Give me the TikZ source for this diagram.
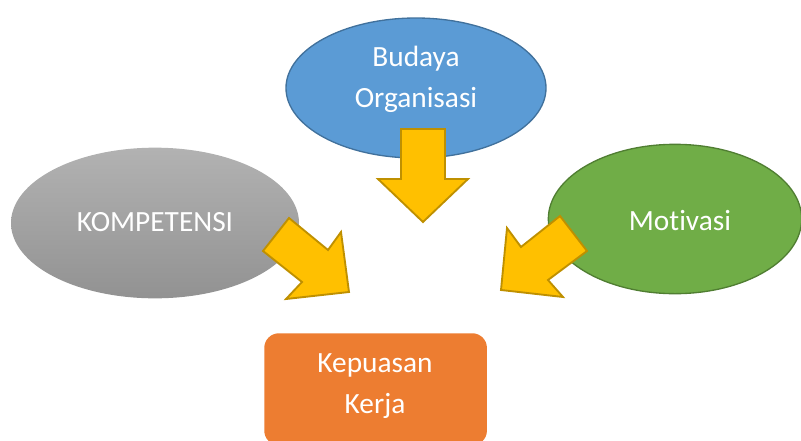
\documentclass[tikz,border=0pt]{standalone}
\usepackage{fontspec}
\setmainfont{Carlito}[Ligatures=NoCommon]
\usetikzlibrary{shapes.geometric}
\definecolor{kkblue}{HTML}{5B9BD5}
\definecolor{kkblueline}{HTML}{41719C}
\definecolor{kkgreen}{HTML}{70AD47}
\definecolor{kkgreenline}{HTML}{507E32}
\definecolor{kkgreytop}{HTML}{B2B2B2}
\definecolor{kkgreybot}{HTML}{929292}
\definecolor{kkorange}{HTML}{ED7D31}
\definecolor{kkgold}{HTML}{FFC000}
\definecolor{kkgoldline}{HTML}{BF9000}
\tikzset{
  kk text/.style={font=\fontsize{22}{31}\selectfont, text=white, align=center},
  kk ellipse/.style={ellipse, inner sep=0pt, line width=1pt},
  kk box/.style={rounded corners=11pt, fill=kkorange, inner sep=0pt},
  kk arrow/.style={fill=kkgold, draw=kkgoldline, line width=1.4pt, line join=miter}
}

\begin{document}
\begin{tikzpicture}[x=0.75pt, y=-0.75pt]
  \useasboundingbox (0,0) rectangle (801,440);
  % the three causes
  \node[kk ellipse, fill=kkblue, draw=kkblueline, minimum width=195pt, minimum height=105pt] (budaya) at (416,88) {};
  \node[kk ellipse, top color=kkgreytop, bottom color=kkgreybot, minimum width=216pt, minimum height=113pt] (kompetensi) at (155,223) {};
  \node[kk ellipse, fill=kkgreen, draw=kkgreenline, minimum width=190pt, minimum height=112pt] (motivasi) at (675,219) {};
  \node[kk text] (budaya-t) at (416,79) {Budaya\\Organisasi};
  \node[kk text] (kompetensi-t) at (155,222) {KOMPETENSI};
  \node[kk text] (motivasi-t) at (680,221) {Motivasi};
  % result
  \node[kk box, minimum width=167pt, minimum height=84pt, anchor=north west] (kepuasan) at (264,333) {};
  \node[kk text] (kepuasan-t) at (375,386) {Kepuasan\\Kerja};
  % block arrows
  \draw[kk arrow] (401,129) -- (445,129) -- (445,179) -- (468,179) -- (423,222)
    -- (378,179) -- (401,179) -- cycle;
  \draw[kk arrow] (289,218) -- (328,250) -- (341,232) -- (349,292) -- (286,299)
    -- (302,282) -- (263,251) -- cycle;
  \draw[kk arrow] (560,216) -- (587,251) -- (548,280) -- (563,297) -- (501,290)
    -- (507,228) -- (521,247) -- cycle;
\end{tikzpicture}
\end{document}
